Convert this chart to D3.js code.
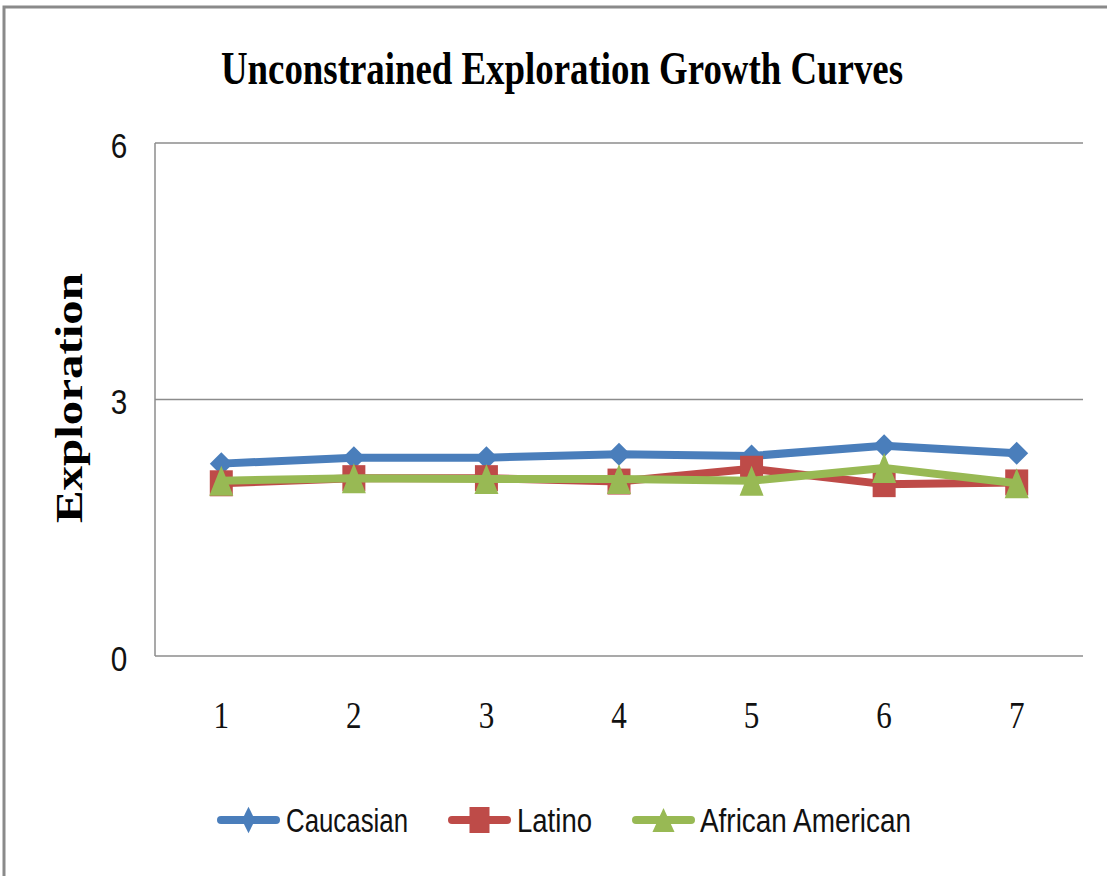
<!DOCTYPE html>
<html>
<head>
<meta charset="utf-8">
<script src="https://cdn.jsdelivr.net/npm/d3@7"></script>
<style>
  html, body { margin: 0; padding: 0; background: #fff; }
  svg { display: block; }
</style>
</head>
<body>
<svg id="chart" width="1107" height="876"></svg>
<script>
// Measurement occasions and mean exploration scores per group
const occasions = ["1", "2", "3", "4", "5", "6", "7"];
const caucasian = [2.25, 2.32, 2.32, 2.36, 2.34, 2.46, 2.37];
const latino = [2.02, 2.08, 2.08, 2.04, 2.19, 2.01, 2.03];
const africanAmerican = [2.05, 2.08, 2.07, 2.07, 2.05, 2.20, 2.02];
const yTicks = [0, 3, 6];
const seriesNames = ["Caucasian", "Latino", "African American"];

const series = [
  { name: seriesNames[0], values: caucasian, color: "#4A7EBB", marker: "diamond" },
  { name: seriesNames[1], values: latino, color: "#BE4B48", marker: "square" },
  { name: seriesNames[2], values: africanAmerican, color: "#98B954", marker: "triangle" }
];

const svg = d3.select("#chart");

// Chart area frame
svg.append("path")
  .attr("d", "M4,876 L4,7 L1107,7")
  .attr("fill", "none")
  .attr("stroke", "#8a8a8a")
  .attr("stroke-width", 3);

const plot = { left: 155, right: 1083, top: 143, bottom: 656 };

const x = d3.scalePoint().domain(occasions).range([plot.left, plot.right]).padding(0.5);
const y = d3.scaleLinear().domain([0, 6]).range([plot.bottom, plot.top]);

// Horizontal gridlines
svg.append("g")
  .selectAll("line")
  .data(yTicks)
  .join("line")
  .attr("x1", plot.left).attr("x2", plot.right)
  .attr("y1", d => y(d)).attr("y2", d => y(d))
  .attr("stroke", "#8c8c8c").attr("stroke-width", 1.5);

// Vertical axis line
svg.append("line")
  .attr("x1", plot.left).attr("x2", plot.left)
  .attr("y1", plot.top).attr("y2", plot.bottom)
  .attr("stroke", "#8c8c8c").attr("stroke-width", 1.5);

// Y tick labels
const yLabelX = 119;
svg.append("g")
  .selectAll("text")
  .data(yTicks)
  .join("text")
  .attr("x", yLabelX)
  .attr("y", d => y(d) + 2)
  .attr("dy", "0.36em")
  .attr("text-anchor", "middle")
  .attr("font-family", "Liberation Sans, Arial, sans-serif")
  .attr("font-size", 35)
  .attr("fill", "#111")
  .attr("transform", d => `translate(${yLabelX},${y(d)}) scale(0.85,1.02) translate(${-yLabelX},${-y(d)})`)
  .text(d => d);

// X tick labels
const xLabelY = 728;
svg.append("g")
  .selectAll("text")
  .data(occasions)
  .join("text")
  .attr("x", d => x(d))
  .attr("y", xLabelY)
  .attr("text-anchor", "middle")
  .attr("font-family", "Liberation Serif, Times New Roman, serif")
  .attr("font-size", 38)
  .attr("fill", "#111")
  .attr("transform", d => `translate(${x(d)},${xLabelY}) scale(0.82,1) translate(${-x(d)},${-xLabelY})`)
  .text(d => d);

// Title
svg.append("text")
  .attr("x", 562)
  .attr("y", 84)
  .attr("text-anchor", "middle")
  .attr("font-family", "Liberation Serif, Times New Roman, serif")
  .attr("font-weight", "bold")
  .attr("font-size", 47)
  .attr("fill", "#000")
  .attr("textLength", 682)
  .attr("lengthAdjust", "spacingAndGlyphs")
  .text("Unconstrained Exploration Growth Curves");

// Y axis title
svg.append("text")
  .attr("transform", "translate(82,398) rotate(-90)")
  .attr("text-anchor", "middle")
  .attr("font-family", "Liberation Serif, Times New Roman, serif")
  .attr("font-weight", "bold")
  .attr("font-size", 38)
  .attr("fill", "#000")
  .attr("textLength", 250)
  .attr("lengthAdjust", "spacingAndGlyphs")
  .text("Exploration");

// Marker shapes, sx/sy scale the base size
function markerPath(type, sx, sy) {
  if (type === "diamond") {
    const w = 11.5 * sx, h = 11.5 * sy;
    return `M0,${-h} L${w},0 L0,${h} L${-w},0 Z`;
  }
  if (type === "square") {
    const w = 11.5 * sx, h = 13 * sy;
    return `M${-w},${-h} L${w},${-h} L${w},${h} L${-w},${h} Z`;
  }
  const w = 12 * sx, h = 15 * sy;
  return `M0,${-h} L${w},${h} L${-w},${h} Z`;
}

const line = d3.line()
  .x((d, i) => x(occasions[i]))
  .y(d => y(d));

series.forEach(s => {
  const g = svg.append("g");
  g.append("path")
    .attr("d", line(s.values))
    .attr("fill", "none")
    .attr("stroke", s.color)
    .attr("stroke-width", 8)
    .attr("stroke-linejoin", "round")
    .attr("stroke-linecap", "round");
  g.selectAll("path.m")
    .data(s.values)
    .join("path")
    .attr("class", "m")
    .attr("d", markerPath(s.marker, 1, 1))
    .attr("transform", (d, i) => `translate(${x(occasions[i])},${y(d)})`)
    .attr("fill", s.color);
});

// Legend
const legendItems = [
  { lineX: 217, textX: 286, textW: 122, mx: 0.57, my: 1.15 },
  { lineX: 448, textX: 517, textW: 75, mx: 0.87, my: 1.0 },
  { lineX: 632, textX: 700, textW: 211, mx: 0.92, my: 0.8 }
];
const legendY = 820;
const legend = svg.append("g");
series.forEach((s, i) => {
  const it = legendItems[i];
  legend.append("line")
    .attr("x1", it.lineX + 4).attr("x2", it.lineX + 59)
    .attr("y1", legendY).attr("y2", legendY)
    .attr("stroke", s.color).attr("stroke-width", 8)
    .attr("stroke-linecap", "round");
  legend.append("path")
    .attr("d", markerPath(s.marker, it.mx, it.my))
    .attr("transform", `translate(${it.lineX + 31.5},${legendY})`)
    .attr("fill", s.color);
  legend.append("text")
    .attr("x", it.textX)
    .attr("y", legendY + 12)
    .attr("font-family", "Liberation Sans, Arial, sans-serif")
    .attr("font-size", 33)
    .attr("fill", "#111")
    .attr("textLength", it.textW)
    .attr("lengthAdjust", "spacingAndGlyphs")
    .text(s.name);
});
</script>
</body>
</html>
